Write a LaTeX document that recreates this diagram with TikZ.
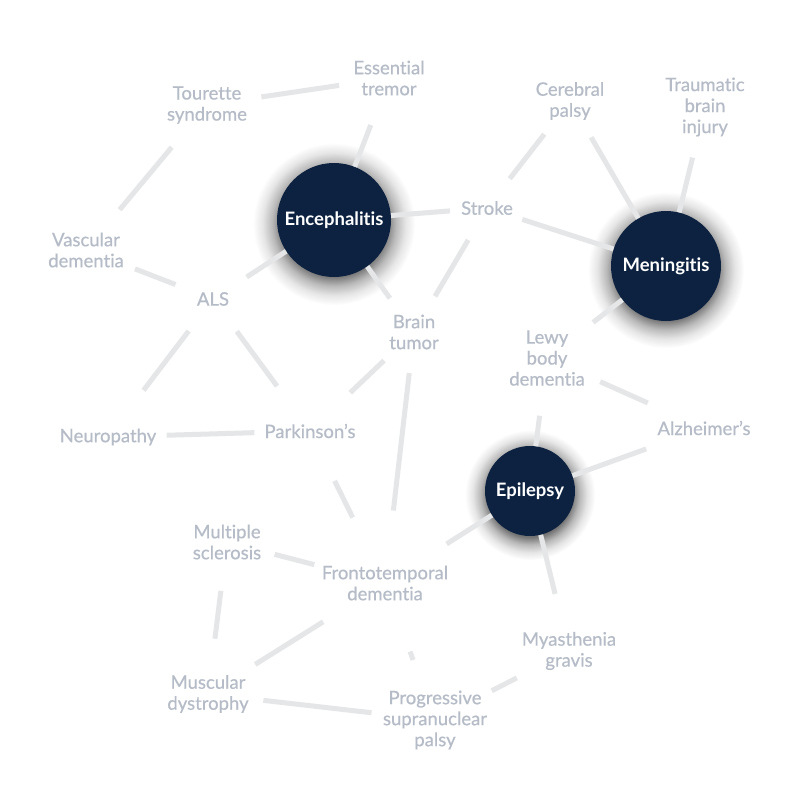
\documentclass[tikz,border=0pt]{standalone}
\usepackage{fontspec}
\setmainfont{Lato}[Ligatures=NoCommon]
\newfontfamily\labelfont{Lato}[Ligatures=NoCommon, FakeBold=0.5]
\usetikzlibrary{fadings,backgrounds}

\definecolor{hubnavy}{HTML}{0D2241}
\definecolor{labelgray}{HTML}{B5BCC7}
\definecolor{linkgray}{HTML}{E5E6E8}

\newcommand\labelsize{\fontsize{18.5}{21}\selectfont}

\pgfdeclareradialshading{hubglowshade}{\pgfpointorigin}{%
  color(0bp)=(pgftransparent!0); color(16bp)=(pgftransparent!0);
  color(19bp)=(pgftransparent!50); color(22bp)=(pgftransparent!82);
  color(25bp)=(pgftransparent!100); color(50bp)=(pgftransparent!100)}
\pgfdeclarefading{hubglow}{\pgfuseshading{hubglowshade}}

\tikzset{
  disease/.style={circle, inner sep=8pt, align=center, text=labelgray, font=\labelfont\labelsize},
  hub/.style={circle, fill=hubnavy, text=white, inner sep=0pt, font=\labelsize\bfseries},
  link/.style={draw=linkgray, line width=5pt},
  glow/.style={fill=black, fill opacity=0.55, path fading=hubglow},
}

\begin{document}
\begin{tikzpicture}[x=1pt, y=-1pt]
\useasboundingbox (0,0) rectangle (800,800);

% Define nodes
\path
(334,220) node[hub, minimum size=114pt] (Enc) {Encephalitis}
(666,266) node[hub, minimum size=110pt] (Men) {Meningitis}
(530,491) node[hub, minimum size=90pt] (Epi) {Epilepsy}
(389,78) node[disease] (ET) {Essential\\tremor}
(207,105) node[disease] (TS) {Tourette\\syndrome}
(570,101) node[disease, inner sep=2pt] (CP) {Cerebral\\palsy}
(705,107) node[disease, inner sep=2pt] (TBI) {Traumatic\\brain\\injury}
(487,208) node[disease] (Str) {Stroke}
(86,250) node[disease] (VD) {Vascular\\dementia}
(213,299) node[disease, minimum size=80pt] (ALS) {ALS}
(414,332) node[disease] (BT) {Brain\\tumor}
(547,358) node[disease] (LBD) {Lewy\\body\\dementia}
(108,437) node[disease] (Neu) {Neuropathy}
(310,431) node[disease] (Park) {Parkinson’s}
(704,428) node[disease, inner sep=12pt] (Alz) {Alzheimer’s}
(227,542) node[disease] (MS) {Multiple\\sclerosis}
(385,583) node[disease, inner sep=6pt] (FTD) {Frontotemporal\\dementia}
(569,651) node[disease, inner sep=6pt] (MG) {Myasthenia\\gravis}
(208,694) node[disease] (MD) {Muscular\\dystrophy}
(435,720) node[disease, inner sep=3pt] (PSP) {Progressive\\supranuclear\\palsy}
;

% Shadows
\begin{pgfonlayer}{background}
\fill[white] (0,0) rectangle (800,800);
\foreach \hub/\r in {Enc/81, Men/78, Epi/65}
  \fill[glow] ([yshift=-4pt]\hub.center) circle[radius=\r pt];
\end{pgfonlayer}

% Links
\draw[link]
(TS) -- (ET)
(ET) -- (Enc)
(TS) -- (VD)
(VD) -- (ALS)
(ALS) -- (Enc)
(Enc) -- (Str)
(Enc) -- (BT)
(Str) -- (CP)
(CP) -- (Men)
(TBI) -- (Men)
(Str) -- (Men)
(Str) -- (BT)
(Men) -- (LBD)
(ALS) -- (Neu)
(ALS) -- (Park)
(BT) -- (Park)
(Neu) -- (Park)
(Park) -- (FTD)
(BT) -- (FTD)
(MS) -- (FTD)
(Epi) -- (FTD)
(Epi) -- (MG)
(MS) -- (MD)
(FTD) -- (MD)
(FTD) -- (PSP)
(MD) -- (PSP)
(PSP) -- (MG)
(LBD) -- (Alz)
(LBD) -- (Epi)
(Epi) -- (Alz)
;

\end{tikzpicture}
\end{document}
